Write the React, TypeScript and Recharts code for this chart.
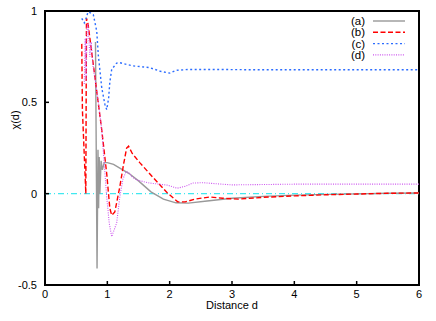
import React from "react";
import {
  LineChart,
  Line,
  XAxis,
  YAxis,
  ReferenceLine,
  Legend,
} from "recharts";

const W = 436;
const H = 321;
const FONT = '"Liberation Sans", Arial, Helvetica, sans-serif';

const xTicks = [0, 1, 2, 3, 4, 5, 6];
const yTicks = [-0.5, 0, 0.5, 1];

// (a) gray solid
const seriesA = [
  { d: 0.81, v: 0.83 }, { d: 0.835, v: -0.41 }, { d: 0.85, v: 0.24 },
  { d: 0.86, v: -0.08 }, { d: 0.87, v: 0.2 }, { d: 0.88, v: 0.0 },
  { d: 0.9, v: 0.18 }, { d: 0.92, v: 0.13 }, { d: 0.95, v: 0.17 },
  { d: 1.0, v: 0.17 }, { d: 1.1, v: 0.16 }, { d: 1.2, v: 0.14 },
  { d: 1.35, v: 0.11 }, { d: 1.5, v: 0.07 }, { d: 1.7, v: 0.01 },
  { d: 1.9, v: -0.03 }, { d: 2.1, v: -0.05 }, { d: 2.3, v: -0.052 },
  { d: 2.6, v: -0.04 }, { d: 3.0, v: -0.025 }, { d: 3.5, v: -0.015 },
  { d: 4.0, v: -0.008 }, { d: 4.5, v: -0.004 }, { d: 5.0, v: -0.001 },
  { d: 5.5, v: 0.002 }, { d: 6.0, v: 0.004 },
];

// (b) red dashed
const seriesB = [
  { d: 0.59, v: 0.82 }, { d: 0.6, v: 0.46 }, { d: 0.655, v: 0.0 },
  { d: 0.665, v: 0.96 }, { d: 0.69, v: 0.93 }, { d: 0.8, v: 0.64 },
  { d: 0.91, v: 0.35 }, { d: 0.99, v: 0.11 }, { d: 1.04, v: -0.08 },
  { d: 1.07, v: -0.118 }, { d: 1.12, v: -0.1 }, { d: 1.2, v: 0.037 },
  { d: 1.26, v: 0.16 }, { d: 1.31, v: 0.25 }, { d: 1.34, v: 0.26 },
  { d: 1.4, v: 0.22 }, { d: 1.52, v: 0.17 }, { d: 1.73, v: 0.09 },
  { d: 1.96, v: 0.005 }, { d: 2.13, v: -0.045 }, { d: 2.25, v: -0.045 },
  { d: 2.4, v: -0.03 }, { d: 2.65, v: -0.018 }, { d: 2.85, v: -0.025 },
  { d: 3.1, v: -0.03 }, { d: 3.5, v: -0.02 }, { d: 4.0, v: -0.012 },
  { d: 4.5, v: -0.006 }, { d: 5.0, v: -0.002 }, { d: 5.5, v: 0.002 },
  { d: 6.0, v: 0.004 },
];

// (c) blue dotted
const seriesC = [
  { d: 0.59, v: 0.96 }, { d: 0.63, v: 0.935 }, { d: 0.66, v: 0.96 },
  { d: 0.69, v: 0.995 }, { d: 0.73, v: 0.99 }, { d: 0.775, v: 0.98 },
  { d: 0.83, v: 0.89 }, { d: 0.855, v: 0.76 }, { d: 0.91, v: 0.58 },
  { d: 0.96, v: 0.49 }, { d: 0.99, v: 0.46 }, { d: 1.02, v: 0.52 },
  { d: 1.04, v: 0.61 }, { d: 1.07, v: 0.68 }, { d: 1.15, v: 0.715 },
  { d: 1.2, v: 0.717 }, { d: 1.4, v: 0.7 }, { d: 1.68, v: 0.69 },
  { d: 1.85, v: 0.67 }, { d: 2.0, v: 0.66 }, { d: 2.1, v: 0.675 },
  { d: 2.3, v: 0.68 }, { d: 2.7, v: 0.68 }, { d: 3.5, v: 0.678 },
  { d: 4.5, v: 0.678 }, { d: 6.0, v: 0.678 },
];

// (d) violet dotted
const seriesD = [
  { d: 0.63, v: 0.6 }, { d: 0.645, v: 0.85 }, { d: 0.66, v: 0.62 },
  { d: 0.675, v: 0.92 }, { d: 0.69, v: 0.93 }, { d: 0.72, v: 0.75 },
  { d: 0.74, v: 0.83 }, { d: 0.77, v: 0.7 }, { d: 0.85, v: 0.52 },
  { d: 0.91, v: 0.35 }, { d: 0.96, v: 0.12 }, { d: 0.99, v: -0.018 },
  { d: 1.03, v: -0.16 }, { d: 1.07, v: -0.235 }, { d: 1.15, v: -0.16 },
  { d: 1.2, v: -0.018 }, { d: 1.25, v: 0.08 }, { d: 1.3, v: 0.12 },
  { d: 1.33, v: 0.12 }, { d: 1.4, v: 0.09 }, { d: 1.48, v: 0.074 },
  { d: 1.68, v: 0.058 }, { d: 1.96, v: 0.047 }, { d: 2.12, v: 0.03 },
  { d: 2.25, v: 0.04 }, { d: 2.37, v: 0.058 }, { d: 2.53, v: 0.06 },
  { d: 3.0, v: 0.048 }, { d: 3.5, v: 0.05 }, { d: 4.0, v: 0.052 },
  { d: 5.0, v: 0.052 }, { d: 6.0, v: 0.052 },
];

const series = [
  { name: "(a)", data: seriesA, color: "#999999", dash: undefined, width: 1.4 },
  { name: "(b)", data: seriesB, color: "#ff0000", dash: "5 2.5", width: 1.4 },
  { name: "(c)", data: seriesC, color: "#2b6cff", dash: "2 2.5", width: 1.4 },
  { name: "(d)", data: seriesD, color: "#cc55ee", dash: "1 1.3", width: 1.1 },
];

const BottomTick = (props: any) => {
  const { x, y, payload } = props;
  return (
    <g>
      <line x1={x} y1={y} x2={x} y2={y - 4} stroke="#000" strokeWidth={1.5} />
      <text x={x} y={y + 13} textAnchor="middle" fontSize={11} fontFamily={FONT} fill="#000">
        {payload.value}
      </text>
    </g>
  );
};

const TopTick = (props: any) => {
  const { x, y } = props;
  return <line x1={x} y1={y} x2={x} y2={y + 4} stroke="#000" strokeWidth={1.5} />;
};

const LeftTick = (props: any) => {
  const { x, y, payload } = props;
  return (
    <g>
      <line x1={x} y1={y} x2={x + 4} y2={y} stroke="#000" strokeWidth={1.5} />
      <text x={x - 8} y={y + 4} textAnchor="end" fontSize={11} fontFamily={FONT} fill="#000">
        {payload.value}
      </text>
    </g>
  );
};

const RightTick = (props: any) => {
  const { x, y } = props;
  return <line x1={x} y1={y} x2={x - 4} y2={y} stroke="#000" strokeWidth={1.5} />;
};

const LegendBox = () => (
  <svg width={80} height={50} style={{ display: "block" }}>
    {series.map((s, i) => {
      const cy = 7 + i * 11.3;
      return (
        <g key={s.name}>
          <text x={25} y={cy + 4} textAnchor="end" fontSize={11.5} fontFamily={FONT} fill="#000">
            {s.name}
          </text>
          <line
            x1={33}
            y1={cy}
            x2={65}
            y2={cy}
            stroke={s.color}
            strokeWidth={s.width}
            strokeDasharray={s.dash}
          />
        </g>
      );
    })}
  </svg>
);

export default function App() {
  return (
    <div style={{ position: "fixed", left: 0, top: 0, width: W, height: H, background: "#fff" }}>
      <div
        style={{
          position: "absolute",
          left: 44,
          top: 10,
          width: 376,
          height: 276,
          border: "2px solid #000",
          boxSizing: "border-box",
        }}
      />
      <div style={{ position: "absolute", left: 0, top: 0 }}>
        <LineChart
          width={W}
          height={H}
          margin={{ top: 10, right: 16, bottom: 35, left: 44 }}
        >
          <XAxis
            dataKey="d"
            type="number"
            domain={[0, 6]}
            ticks={xTicks}
            allowDataOverflow
            height={1}
            tickSize={0}
            tickMargin={0}
            tick={<BottomTick />}
            axisLine={false}
            tickLine={false}
          />
          <XAxis
            xAxisId="t"
            orientation="top"
            dataKey="d"
            type="number"
            domain={[0, 6]}
            ticks={xTicks}
            height={1}
            tickSize={0}
            tickMargin={0}
            tick={<TopTick />}
            axisLine={false}
            tickLine={false}
          />
          <YAxis
            type="number"
            domain={[-0.5, 1]}
            ticks={yTicks}
            allowDataOverflow
            width={1}
            tickSize={0}
            tickMargin={0}
            tick={<LeftTick />}
            axisLine={false}
            tickLine={false}
          />
          <YAxis
            yAxisId="r"
            orientation="right"
            type="number"
            domain={[-0.5, 1]}
            ticks={yTicks}
            width={1}
            tickSize={0}
            tickMargin={0}
            tick={<RightTick />}
            axisLine={false}
            tickLine={false}
          />
          <ReferenceLine y={0} stroke="#40e8f0" strokeWidth={1.2} strokeDasharray="6 3 1 3" />
          {series.map((s) => (
            <Line
              key={s.name}
              name={s.name}
              data={s.data}
              dataKey="v"
              type="linear"
              stroke={s.color}
              strokeWidth={s.width}
              strokeDasharray={s.dash}
              dot={false}
              activeDot={false}
              isAnimationActive={false}
            />
          ))}
          <Legend
            layout="vertical"
            align="center"
            verticalAlign="middle"
            content={<LegendBox />}
            wrapperStyle={{ position: "absolute", top: 14, left: 340, width: 80, height: 50 }}
          />
        </LineChart>
      </div>
      <svg
        width={W}
        height={H}
        style={{ position: "absolute", left: 0, top: 0, pointerEvents: "none" }}
      >
        <text x={232} y={309} textAnchor="middle" fontSize={11} fontFamily={FONT} fill="#000">
          Distance d
        </text>
        <text
          x={19}
          y={120}
          textAnchor="middle"
          fontSize={11}
          fontFamily={FONT}
          fill="#000"
          transform="rotate(-90 19 120)"
        >
          χ(d)
        </text>
      </svg>
    </div>
  );
}
